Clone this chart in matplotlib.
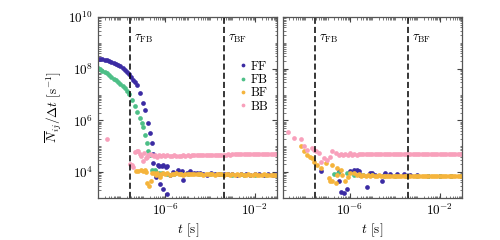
import numpy as np
import matplotlib
matplotlib.use("Agg")
import matplotlib.pyplot as plt
from matplotlib.ticker import LogLocator, NullFormatter

plt.rcParams['font.family'] = 'serif'
plt.rcParams['font.serif'] = ['cmr10']
plt.rcParams['mathtext.fontset'] = 'cm'
plt.rcParams['axes.formatter.use_mathtext'] = True

# time constants (s)
tau_FB = 2.7e-8
tau_BF = 4.0e-4

# ---------- left panel: log10(t), log10(N/dt) ----------
ff_a_lt = [-9.0, -8.9, -8.8, -8.7, -8.6, -8.5, -8.4, -8.3, -8.2, -8.1, -8.0, -7.9, -7.8, -7.7, -7.6,
           -7.52, -7.44, -7.35, -7.26, -7.12, -6.99, -6.90, -6.77, -6.68, -6.60, -6.54,
           -6.53, -6.46, -6.40, -6.31, -6.26, -6.25, -6.16, -6.11, -6.08, -5.98, -5.93, -5.93,
           -5.79, -5.65, -5.56, -5.42, -5.26, -5.19, -5.05, -4.89, -4.72, -4.58, -4.45, -4.30,
           -4.13, -3.95, -3.80, -3.60, -3.40, -3.20, -3.00, -2.80, -2.60, -2.40, -2.20, -2.00,
           -1.80, -1.60, -1.40, -1.20, -1.05]
ff_a_lv = [8.37, 8.37, 8.36, 8.35, 8.33, 8.31, 8.27, 8.23, 8.19, 8.14, 8.09, 8.02, 7.95, 7.87, 7.78,
           7.68, 7.57, 7.47, 7.37, 7.07, 6.68, 6.40, 5.92, 5.50, 5.12, 4.72,
           4.37, 4.03, 3.80, 4.26, 4.24, 3.55, 4.22, 3.33, 4.26, 4.20, 4.22, 3.17,
           3.90, 4.00, 3.96, 4.09, 4.03, 3.70, 3.95, 4.03, 3.96, 3.98, 3.98, 3.94,
           3.90, 3.96, 3.93, 3.92, 3.94, 3.91, 3.92, 3.90, 3.92, 3.91, 3.90, 3.92,
           3.91, 3.90, 3.91, 3.90, 3.91]

fb_a_lt = [-9.0, -8.9, -8.8, -8.7, -8.6, -8.5, -8.4, -8.3, -8.2, -8.1, -8.0, -7.9, -7.8, -7.7, -7.6,
           -7.50, -7.35, -7.28, -7.13, -7.05, -6.98, -6.90, -6.83, -6.75, -6.68, -6.60, -6.46,
           -6.30, -6.15, -5.90, -5.60, -5.30, -5.00, -4.50, -4.00, -3.50, -3.00, -2.50, -2.00, -1.50, -1.05]
fb_a_lv = [8.02, 7.98, 7.93, 7.88, 7.82, 7.76, 7.69, 7.62, 7.55, 7.48, 7.41, 7.33, 7.24, 7.14, 7.04,
           6.80, 6.54, 6.34, 6.09, 5.90, 5.74, 5.44, 5.12, 4.80, 4.67, 4.09, 4.10,
           3.98, 3.95, 3.94, 3.93, 3.93, 3.92, 3.92, 3.91, 3.91, 3.90, 3.90, 3.90, 3.90, 3.90]

bf_a_lt = [-7.30, -7.20, -7.10, -7.00, -6.92, -6.85, -6.80, -6.72, -6.62, -6.58, -6.50, -6.42, -6.35,
           -6.25, -6.18, -6.10, -6.00, -5.90, -5.80, -5.70, -5.60, -5.50, -5.40, -5.30, -5.20,
           -5.10, -5.00, -4.90, -4.80, -4.70, -4.60, -4.50, -4.40, -4.30, -4.20, -4.10, -4.00,
           -3.90, -3.80, -3.70, -3.60, -3.50, -3.40, -3.30, -3.20, -3.10, -3.00, -2.90, -2.80,
           -2.70, -2.60, -2.50, -2.40, -2.30, -2.20, -2.10, -2.00, -1.90, -1.80, -1.70, -1.60,
           -1.50, -1.40, -1.30, -1.20, -1.10, -1.02]
bf_a_lv = [4.03, 4.06, 4.09, 4.05, 4.07, 4.02, 3.58, 3.45, 3.64, 3.98, 3.96, 3.90, 3.97,
           3.83, 3.93, 3.95, 3.92, 3.96, 3.90, 3.94, 3.92, 3.95, 3.91, 3.93, 3.90,
           3.94, 3.92, 3.93, 3.91, 3.92, 3.94, 3.91, 3.92, 3.90, 3.93, 3.92, 3.91,
           3.92, 3.90, 3.91, 3.92, 3.91, 3.90, 3.91, 3.92, 3.90, 3.91, 3.90, 3.91,
           3.90, 3.91, 3.90, 3.90, 3.91, 3.90, 3.90, 3.91, 3.90, 3.90, 3.90, 3.91,
           3.90, 3.90, 3.90, 3.90, 3.90, 3.90]

bb_a_lt = [-8.58, -7.57, -7.50, -7.43, -7.35, -7.27, -7.20, -7.13, -7.06, -7.00, -6.95, -6.88,
           -6.83, -6.76, -6.68, -6.60, -6.52, -6.44, -6.36, -6.28, -6.20, -6.10, -6.00, -5.90,
           -5.80, -5.70, -5.60, -5.50, -5.40, -5.30, -5.20, -5.10, -5.00, -4.90, -4.80, -4.70,
           -4.60, -4.50, -4.40, -4.30, -4.20, -4.10, -4.00, -3.90, -3.80, -3.70, -3.60, -3.50,
           -3.40, -3.30, -3.20, -3.10, -3.00, -2.90, -2.80, -2.70, -2.60, -2.50, -2.40, -2.30,
           -2.20, -2.10, -2.00, -1.90, -1.80, -1.70, -1.60, -1.50, -1.40, -1.30, -1.20, -1.10, -1.02]
bb_a_lv = [5.28, 4.33, 4.28, 4.18, 4.77, 4.80, 4.80, 4.70, 4.62, 4.45, 4.74, 4.55,
           4.60, 4.68, 4.72, 4.66, 4.62, 4.66, 4.60, 4.65, 4.62, 4.66, 4.63, 4.65,
           4.62, 4.64, 4.65, 4.63, 4.64, 4.64, 4.65, 4.64, 4.65, 4.64, 4.65, 4.65,
           4.66, 4.65, 4.66, 4.66, 4.67, 4.66, 4.67, 4.67, 4.67, 4.68, 4.67, 4.68,
           4.68, 4.68, 4.69, 4.68, 4.69, 4.69, 4.69, 4.70, 4.69, 4.70, 4.70, 4.70,
           4.70, 4.71, 4.70, 4.71, 4.71, 4.71, 4.71, 4.72, 4.71, 4.72, 4.72, 4.72, 4.72]

# ---------- right panel ----------
ff_b_lt = [-7.31, -6.50, -6.50, -6.42, -6.28, -6.12, -5.98, -5.83, -5.68, -5.61, -5.53, -5.24,
           -5.09, -5.01, -4.87, -4.57, -4.50, -4.42, -4.20, -3.90, -3.60, -3.30, -3.00, -2.50,
           -2.00, -1.50, -1.05]
ff_b_lv = [4.05, 3.64, 4.03, 3.25, 3.19, 3.35, 4.03, 4.09, 4.09, 4.03, 3.90, 3.42,
           3.96, 3.98, 3.90, 3.64, 3.90, 3.96, 3.94, 3.93, 3.92, 3.90, 3.88, 3.87,
           3.86, 3.86, 3.86]

fb_b_lt = [-6.72, -6.55, -6.12, -5.80, -5.40, -5.00, -4.50, -4.00, -3.50, -3.00, -2.50, -2.00, -1.50, -1.05]
fb_b_lv = [3.92, 3.98, 3.96, 3.90, 3.89, 3.88, 3.87, 3.86, 3.86, 3.85, 3.85, 3.85, 3.85, 3.85]

bf_b_lt = [-8.17, -8.05, -7.90, -7.79, -7.68, -7.61, -7.46, -7.31, -7.09, -6.94, -6.87, -6.79,
           -6.79, -6.64, -6.57, -6.57, -6.42, -6.35, -6.20, -6.08, -5.98, -5.83, -5.70, -5.60,
           -5.50, -5.40, -5.30, -5.20, -5.10, -5.00, -4.90, -4.80, -4.70, -4.60, -4.50, -4.40,
           -4.30, -4.20, -4.10, -4.00, -3.90, -3.80, -3.70, -3.60, -3.50, -3.40, -3.30, -3.20,
           -3.10, -3.00, -2.90, -2.80, -2.70, -2.60, -2.50, -2.40, -2.30, -2.20, -2.10, -2.00,
           -1.90, -1.80, -1.70, -1.60, -1.50, -1.40, -1.30, -1.20, -1.10, -1.02]
bf_b_lv = [5.02, 4.80, 4.67, 4.60, 4.54, 4.41, 4.28, 4.16, 4.35, 3.77, 3.64, 3.64,
           4.26, 3.58, 4.16, 3.90, 4.09, 3.90, 3.64, 3.80, 3.96, 3.96, 3.88, 3.92,
           3.86, 3.90, 3.87, 3.89, 3.86, 3.88, 3.87, 3.86, 3.88, 3.86, 3.87, 3.86,
           3.87, 3.86, 3.86, 3.87, 3.86, 3.85, 3.86, 3.86, 3.85, 3.86, 3.85, 3.86,
           3.85, 3.85, 3.86, 3.85, 3.85, 3.85, 3.86, 3.85, 3.85, 3.85, 3.85, 3.85,
           3.85, 3.85, 3.85, 3.85, 3.85, 3.85, 3.85, 3.85, 3.85, 3.85]

bb_b_lt = [-8.75, -8.50, -8.17, -8.05, -7.90, -7.68, -7.61, -7.53, -7.39, -7.31, -7.16, -7.01,
           -6.87, -6.79, -6.64, -6.50, -6.40, -6.30, -6.20, -6.10, -6.00, -5.90, -5.80, -5.70,
           -5.60, -5.50, -5.40, -5.30, -5.20, -5.10, -5.00, -4.90, -4.80, -4.70, -4.60, -4.50,
           -4.40, -4.30, -4.20, -4.10, -4.00, -3.90, -3.80, -3.70, -3.60, -3.50, -3.40, -3.30,
           -3.20, -3.10, -3.00, -2.90, -2.80, -2.70, -2.60, -2.50, -2.40, -2.30, -2.20, -2.10,
           -2.00, -1.90, -1.80, -1.70, -1.60, -1.50, -1.40, -1.30, -1.20, -1.10, -1.02]
bb_b_lv = [5.57, 5.34, 5.28, 5.00, 4.86, 4.93, 4.84, 4.80, 4.74, 4.41, 4.54, 4.48,
           4.60, 4.80, 4.74, 4.67, 4.72, 4.66, 4.70, 4.68, 4.73, 4.67, 4.71, 4.68,
           4.72, 4.69, 4.71, 4.70, 4.70, 4.71, 4.69, 4.70, 4.71, 4.70, 4.70, 4.70,
           4.71, 4.70, 4.70, 4.70, 4.70, 4.71, 4.70, 4.70, 4.70, 4.70, 4.70, 4.71,
           4.70, 4.70, 4.70, 4.70, 4.70, 4.70, 4.71, 4.70, 4.70, 4.70, 4.70, 4.70,
           4.70, 4.70, 4.70, 4.70, 4.70, 4.70, 4.70, 4.70, 4.70, 4.70, 4.70]

labels = ['FF', 'FB', 'BF', 'BB']
colors = ['#3b2ba3', '#4dbf87', '#f5b43c', '#f8a0bb']

panels = [
    [(ff_a_lt, ff_a_lv), (fb_a_lt, fb_a_lv), (bf_a_lt, bf_a_lv), (bb_a_lt, bb_a_lv)],
    [(ff_b_lt, ff_b_lv), (fb_b_lt, fb_b_lv), (bf_b_lt, bf_b_lv), (bb_b_lt, bb_b_lv)],
]

fig, axes = plt.subplots(1, 2, figsize=(5, 2.4), dpi=100, sharey=True)
fig.subplots_adjust(left=0.196, right=0.924, top=0.929, bottom=0.175, wspace=0.03)

for ax, series in zip(axes, panels):
    for (lt, lv), lab, c in zip(series, labels, colors):
        ax.plot(10 ** np.array(lt), 10 ** np.array(lv), 'o', ms=3.4, mew=0,
                color=c, label=lab)
    for tau, name in [(tau_FB, r'$\tau_{\rm FB}$'), (tau_BF, r'$\tau_{\rm BF}$')]:
        ax.axvline(tau, color='k', ls='--', lw=1.1, dashes=(4, 2))
        ax.text(tau * 1.5, 1.4e9, name, fontsize=9, va='center', ha='left')
    ax.set_xscale('log')
    ax.set_yscale('log')
    ax.set_xlim(1e-9, 1e-1)
    ax.set_ylim(1e3, 1e10)
    ax.set_xticks([1e-6, 1e-2])
    ax.xaxis.set_minor_locator(LogLocator(base=10, subs=np.arange(1, 10), numticks=30))
    ax.xaxis.set_minor_formatter(NullFormatter())
    ax.set_yticks([1e4, 1e6, 1e8, 1e10])
    ax.yaxis.set_minor_locator(LogLocator(base=10, subs=np.arange(1, 10), numticks=30))
    ax.yaxis.set_minor_formatter(NullFormatter())
    ax.tick_params(which='both', direction='in', top=True, right=True, labelsize=9.5,
                   color='#444444')
    ax.tick_params(which='major', length=3.5, width=0.8)
    ax.tick_params(which='minor', length=1.8, width=0.5)
    for sp in ax.spines.values():
        sp.set_color('#555555')
        sp.set_linewidth(0.9)
    ax.set_xlabel(r'$t$ [s]', fontsize=9.5, labelpad=2)

axes[1].tick_params(labelleft=False)
axes[0].set_ylabel(r'$\overline{N}_{ij}/\Delta t$ [s$^{-1}$]', fontsize=9.5, labelpad=3)
axes[0].legend(loc='upper left', bbox_to_anchor=(0.78, 0.76), frameon=False,
               handletextpad=0.15, labelspacing=0.1, handlelength=0.9,
               borderaxespad=0, borderpad=0, fontsize=9, markerscale=0.8)

fig.savefig('out.png', dpi=100)
